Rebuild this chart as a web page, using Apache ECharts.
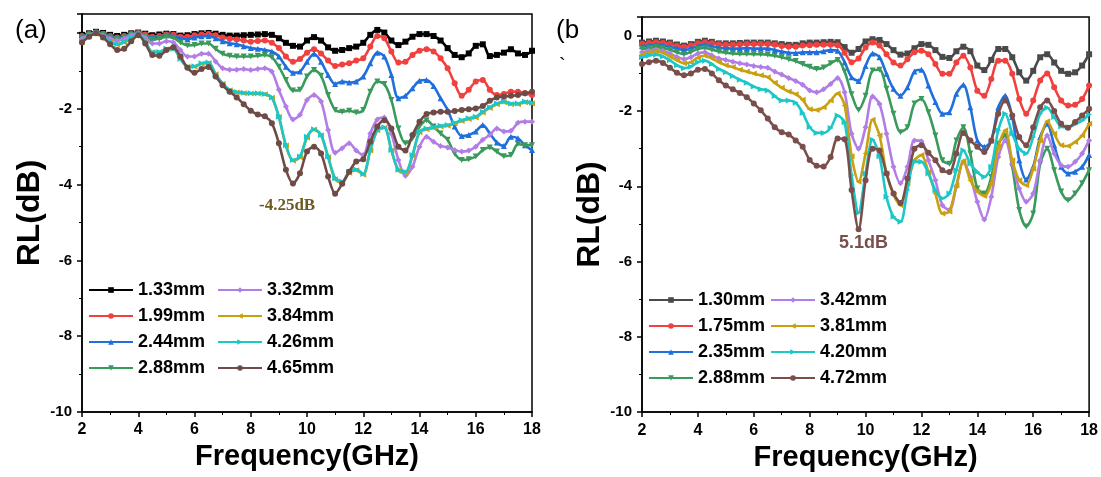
<!DOCTYPE html>
<html>
<head>
<meta charset="utf-8">
<script src="https://cdn.jsdelivr.net/npm/echarts@6/dist/echarts.min.js"></script>
<style>
html,body{margin:0;padding:0;background:#fff;}
#c{width:1101px;height:477px;}
</style>
</head>
<body>
<div id="c"></div>
<script>
const freq = [2,2.25,2.5,2.75,3,3.25,3.5,3.75,4,4.25,4.5,4.75,5,5.25,5.5,5.75,6,6.25,6.5,6.75,7,7.25,7.5,7.75,8,8.25,8.5,8.75,9,9.25,9.5,9.75,10,10.25,10.5,10.75,11,11.25,11.5,11.75,12,12.25,12.5,12.75,13,13.25,13.5,13.75,14,14.25,14.5,14.75,15,15.25,15.5,15.75,16,16.25,16.5,16.75,17,17.25,17.5,17.75,18];

// Panel (a)
const namesA = ['1.33mm','1.99mm','2.44mm','2.88mm','3.32mm','3.84mm','4.26mm','4.65mm'];
const a133 = [-0.05,-0.01,0.03,0.0,-0.05,-0.08,-0.05,-0.01,0.01,-0.02,-0.06,-0.04,-0.02,-0.03,-0.07,-0.06,-0.03,-0.01,0.0,-0.02,-0.05,-0.07,-0.07,-0.06,
 -0.05,-0.04,-0.03,-0.05,-0.14,-0.26,-0.34,-0.36,-0.2,-0.11,-0.2,-0.38,-0.47,-0.45,-0.4,-0.36,-0.26,-0.05,0.08,0.01,-0.2,-0.32,-0.23,-0.1,-0.03,-0.03,-0.08,-0.2,-0.4,-0.58,-0.64,-0.54,-0.34,-0.3,-0.61,-0.58,-0.52,-0.43,-0.54,-0.58,-0.47];
const a199 = [-0.08,-0.03,0.02,-0.02,-0.08,-0.12,-0.08,-0.03,0.0,-0.04,-0.1,-0.08,-0.04,-0.05,-0.1,-0.1,-0.06,-0.04,-0.03,-0.06,-0.12,-0.15,-0.17,-0.2,
 -0.23,-0.21,-0.2,-0.26,-0.4,-0.62,-0.76,-0.69,-0.52,-0.43,-0.54,-0.73,-0.87,-0.83,-0.8,-0.73,-0.67,-0.36,-0.08,-0.14,-0.49,-0.78,-0.76,-0.58,-0.47,-0.43,-0.49,-0.67,-0.93,-1.33,-1.66,-1.5,-1.28,-1.24,-1.5,-1.64,-1.61,-1.55,-1.55,-1.59,-1.64];
const a244 = [-0.1,-0.04,0.01,-0.03,-0.1,-0.14,-0.1,-0.04,-0.01,-0.06,-0.13,-0.1,-0.06,-0.08,-0.15,-0.16,-0.12,-0.09,-0.08,-0.14,-0.22,-0.27,-0.3,-0.35,
 -0.4,-0.42,-0.45,-0.49,-0.62,-0.89,-1.05,-1.02,-0.76,-0.55,-0.76,-1.11,-1.35,-1.28,-1.31,-1.28,-1.15,-0.8,-0.52,-0.62,-1.11,-1.72,-1.66,-1.46,-1.26,-1.24,-1.4,-1.72,-2.03,-2.47,-2.72,-2.69,-2.6,-2.43,-2.65,-2.89,-2.98,-2.74,-2.78,-2.96,-3.09];
const a288 = [-0.12,-0.05,0.0,-0.05,-0.12,-0.16,-0.12,-0.05,-0.02,-0.08,-0.18,-0.15,-0.1,-0.13,-0.25,-0.33,-0.32,-0.28,-0.28,-0.42,-0.55,-0.6,-0.62,-0.62,
 -0.62,-0.6,-0.58,-0.64,-0.89,-1.24,-1.52,-1.5,-1.15,-0.98,-1.13,-1.64,-2.03,-2.08,-2.05,-2.1,-2.03,-1.55,-1.28,-1.35,-1.77,-2.52,-2.91,-2.78,-2.47,-2.3,-2.47,-2.65,-2.82,-3.18,-3.35,-3.33,-3.26,-3.09,-3.02,-3.13,-3.25,-3.22,-2.93,-2.96,-2.96];
const a332 = [-0.15,-0.06,0.0,-0.07,-0.15,-0.2,-0.15,-0.06,-0.03,-0.12,-0.28,-0.28,-0.22,-0.25,-0.45,-0.62,-0.62,-0.55,-0.55,-0.75,-0.93,-0.97,-0.97,-0.95,
 -0.98,-0.95,-0.93,-1.02,-1.5,-1.94,-2.28,-2.16,-1.77,-1.64,-1.81,-2.56,-3.16,-3.04,-2.91,-3.1,-3.22,-2.65,-2.28,-2.23,-2.65,-3.35,-3.77,-3.53,-3.0,-2.74,-2.87,-2.98,-3.02,-3.09,-3.13,-3.1,-3.0,-2.82,-2.69,-2.52,-2.6,-2.58,-2.37,-2.34,-2.34];
const a384 = [-0.23,-0.09,-0.02,-0.11,-0.23,-0.31,-0.25,-0.13,-0.06,-0.23,-0.51,-0.51,-0.43,-0.43,-0.69,-0.89,-0.89,-0.81,-0.79,-1.09,-1.34,-1.51,-1.57,-1.59,
 -1.6,-1.6,-1.62,-1.71,-2.22,-2.97,-3.37,-3.28,-2.76,-2.55,-2.7,-3.28,-3.86,-3.95,-3.69,-3.62,-3.74,-3.1,-2.57,-2.5,-3.1,-3.63,-3.69,-3.24,-2.62,-2.54,-2.51,-2.47,-2.45,-2.39,-2.32,-2.27,-2.23,-2.1,-1.98,-1.88,-1.83,-1.88,-1.88,-1.83,-1.86];
const a426 = [-0.22,-0.08,-0.01,-0.1,-0.22,-0.3,-0.24,-0.12,-0.05,-0.22,-0.5,-0.5,-0.42,-0.42,-0.68,-0.88,-0.88,-0.8,-0.78,-1.08,-1.33,-1.5,-1.56,-1.58,
 -1.59,-1.59,-1.61,-1.7,-2.21,-2.96,-3.35,-3.26,-2.74,-2.54,-2.69,-3.26,-3.83,-3.92,-3.66,-3.6,-3.72,-3.09,-2.56,-2.49,-3.09,-3.61,-3.66,-3.22,-2.6,-2.52,-2.49,-2.45,-2.43,-2.37,-2.3,-2.25,-2.21,-2.08,-1.96,-1.86,-1.81,-1.86,-1.86,-1.81,-1.84];
const a465 = [-0.25,-0.1,-0.01,-0.12,-0.3,-0.45,-0.42,-0.22,-0.06,-0.28,-0.58,-0.6,-0.45,-0.38,-0.62,-0.92,-1.05,-0.95,-0.9,-1.15,-1.38,-1.55,-1.7,-1.88,
 -2.05,-2.15,-2.2,-2.38,-2.91,-3.61,-3.97,-3.7,-3.13,-3.0,-3.18,-3.79,-4.24,-3.98,-3.66,-3.39,-3.33,-2.87,-2.47,-2.3,-2.52,-3.0,-3.1,-2.69,-2.34,-2.14,-2.1,-2.08,-2.08,-2.06,-2.03,-2.01,-1.99,-1.93,-1.79,-1.7,-1.68,-1.66,-1.64,-1.59,-1.55];

// Panel (b)
const namesB = ['1.30mm','1.75mm','2.35mm','2.88mm ','3.42mm','3.81mm','4.20mm','4.72mm'];
const b130 = [-0.18,-0.15,-0.13,-0.15,-0.18,-0.23,-0.26,-0.22,-0.16,-0.13,-0.16,-0.2,-0.2,-0.2,-0.19,-0.18,-0.18,-0.18,-0.18,-0.2,-0.22,-0.24,-0.24,-0.2,
 -0.18,-0.18,-0.17,-0.16,-0.17,-0.3,-0.45,-0.35,-0.15,-0.09,-0.11,-0.22,-0.38,-0.5,-0.47,-0.33,-0.22,-0.24,-0.38,-0.56,-0.59,-0.41,-0.29,-0.41,-0.79,-0.91,-0.64,-0.35,-0.35,-0.57,-0.97,-1.19,-0.93,-0.57,-0.49,-0.71,-0.93,-1.01,-0.97,-0.79,-0.49];
const b175 = [-0.22,-0.19,-0.17,-0.19,-0.22,-0.27,-0.3,-0.26,-0.2,-0.17,-0.2,-0.23,-0.24,-0.24,-0.23,-0.22,-0.22,-0.22,-0.22,-0.24,-0.27,-0.29,-0.29,-0.26,
 -0.25,-0.24,-0.24,-0.24,-0.25,-0.45,-0.7,-0.6,-0.31,-0.18,-0.26,-0.49,-0.71,-0.79,-0.62,-0.44,-0.4,-0.49,-0.75,-1.01,-1.01,-0.71,-0.53,-0.84,-1.46,-1.59,-1.15,-0.66,-0.66,-1.01,-1.68,-2.07,-1.72,-1.19,-1.0,-1.37,-1.72,-1.85,-1.83,-1.68,-1.32];
const b235 = [-0.28,-0.25,-0.23,-0.25,-0.29,-0.34,-0.38,-0.34,-0.27,-0.24,-0.28,-0.32,-0.33,-0.34,-0.34,-0.33,-0.34,-0.34,-0.34,-0.38,-0.42,-0.45,-0.46,-0.44,
 -0.44,-0.44,-0.41,-0.38,-0.4,-0.7,-1.1,-1.2,-0.8,-0.47,-0.57,-1.01,-1.41,-1.59,-1.37,-0.95,-0.9,-1.32,-1.76,-2.07,-2.03,-1.54,-1.3,-1.9,-2.78,-2.95,-2.78,-1.9,-1.59,-2.16,-3.31,-3.82,-3.48,-2.69,-2.34,-2.91,-3.48,-3.66,-3.61,-3.48,-3.17];
const b288 = [-0.35,-0.32,-0.3,-0.32,-0.37,-0.44,-0.49,-0.43,-0.35,-0.32,-0.37,-0.42,-0.45,-0.47,-0.48,-0.48,-0.49,-0.49,-0.5,-0.53,-0.57,-0.62,-0.67,-0.75,
 -0.82,-0.88,-0.84,-0.73,-0.64,-0.95,-1.55,-1.97,-1.59,-0.92,-0.9,-1.41,-2.07,-2.56,-2.43,-1.8,-1.68,-2.03,-2.65,-3.31,-3.4,-2.78,-2.43,-3.13,-4.06,-4.19,-3.75,-2.87,-2.65,-3.48,-4.63,-5.07,-4.72,-3.4,-3.0,-3.57,-4.14,-4.37,-4.19,-3.92,-3.57];
const b342 = [-0.44,-0.4,-0.37,-0.4,-0.47,-0.56,-0.62,-0.57,-0.47,-0.44,-0.52,-0.6,-0.64,-0.69,-0.73,-0.76,-0.8,-0.83,-0.85,-0.95,-1.03,-1.12,-1.2,-1.3,
 -1.45,-1.5,-1.42,-1.28,-1.12,-1.5,-2.6,-3.0,-2.43,-1.61,-1.81,-2.6,-3.48,-3.92,-3.48,-2.78,-2.8,-3.31,-3.84,-4.5,-4.63,-4.01,-3.35,-3.75,-4.41,-4.88,-4.28,-3.22,-2.78,-3.4,-4.06,-4.41,-4.19,-3.31,-2.65,-3.13,-3.44,-3.48,-3.35,-3.13,-2.78];
const b381 = [-0.5,-0.45,-0.42,-0.45,-0.55,-0.65,-0.73,-0.7,-0.58,-0.53,-0.6,-0.7,-0.78,-0.83,-0.9,-0.95,-1.0,-1.05,-1.1,-1.25,-1.38,-1.48,-1.55,-1.7,
 -1.95,-1.97,-1.9,-1.72,-1.53,-1.85,-3.2,-3.88,-3.13,-2.23,-2.65,-3.66,-4.23,-4.5,-3.92,-3.31,-3.17,-3.62,-4.19,-4.72,-4.67,-3.97,-3.33,-3.84,-4.14,-4.26,-3.92,-2.95,-2.51,-3.31,-3.84,-3.97,-3.53,-2.78,-2.27,-2.6,-2.91,-2.93,-2.82,-2.65,-2.34];
const b420 = [-0.57,-0.52,-0.5,-0.55,-0.65,-0.78,-0.86,-0.82,-0.7,-0.66,-0.75,-0.88,-0.97,-1.07,-1.17,-1.25,-1.35,-1.42,-1.45,-1.6,-1.72,-1.72,-1.78,-2.05,
 -2.42,-2.58,-2.58,-2.45,-2.12,-2.3,-3.7,-4.7,-3.66,-2.76,-3.2,-4.28,-4.81,-4.94,-4.1,-3.35,-3.35,-3.66,-4.1,-4.32,-4.19,-3.57,-3.04,-3.4,-3.62,-3.75,-3.48,-2.51,-2.07,-2.6,-3.0,-3.13,-2.69,-2.07,-1.91,-2.16,-2.41,-2.43,-2.35,-2.25,-2.09];
const b472 = [-0.75,-0.7,-0.66,-0.72,-0.85,-0.98,-1.05,-1.0,-0.9,-0.88,-1.0,-1.18,-1.32,-1.42,-1.52,-1.63,-1.8,-1.98,-2.2,-2.43,-2.56,-2.62,-2.78,-2.95,
 -3.3,-3.45,-3.47,-3.22,-2.73,-2.75,-4.1,-5.14,-3.84,-3.0,-3.05,-3.66,-4.19,-4.44,-3.79,-3.0,-2.91,-3.11,-3.31,-3.57,-3.62,-3.13,-2.58,-2.78,-2.95,-3.09,-2.78,-2.07,-1.72,-2.12,-2.69,-2.91,-2.43,-1.9,-1.72,-2.0,-2.34,-2.44,-2.29,-2.12,-1.94];

const yTicks = [0,-2,-4,-6,-8,-10];

const seriesA = [a133,a199,a244,a288,a332,a384,a426,a465];
const seriesB = [b130,b175,b235,b288,b342,b381,b420,b472];
const colorsA = ['#000000','#f0413f','#1f6fdc','#3a9a5c','#b27de6','#c9a010','#1cc7c7','#6f4b47'];
const colorsB = ['#4a4a4a','#f0413f','#1f6fdc','#3a9a5c','#b27de6','#c9a010','#1cc7c7','#7a4f4b'];
const symbols = ['rect','circle','triangle','triangle','diamond','triangle','triangle','circle'];
const rots = [0,0,0,180,0,90,-90,0];

const FONT = '"Liberation Sans", Arial, sans-serif';

function mkSeries(names, arrs, colors, idx){
  return arrs.map((arr,i)=>({
    type:'line', name:names[i], xAxisIndex:idx, yAxisIndex:idx,
    data: freq.map((f,k)=>[f, arr[k]]),
    smooth:0.3, symbol:symbols[i], symbolRotate:rots[i], symbolSize:6, showSymbol:true,
    lineStyle:{color:colors[i], width:2.6}, itemStyle:{color:colors[i]},
    emphasis:{disabled:true}, clip:true, z:2+i
  }));
}

function xAx(idx){
  return {type:'value', gridIndex:idx, min:2, max:18, interval:2,
    axisLine:{show:true,onZero:false,lineStyle:{color:'#000',width:1.5}},
    axisTick:{show:true,length:5,lineStyle:{color:'#000',width:1.5}},
    minorTick:{show:true,splitNumber:2,length:3,lineStyle:{color:'#000',width:1}},
    splitLine:{show:false},
    axisLabel:{color:'#000',fontWeight:'bold',fontSize:16,fontFamily:FONT,margin:10},
    name:'Frequency(GHz)', nameLocation:'middle', nameGap:28,
    nameTextStyle:{fontSize:29,fontWeight:'bold',color:'#000',fontFamily:FONT}};
}
function yAx(idx, hideZero, gap){
  return {type:'value', gridIndex:idx, min:-10, max:0.5, interval:2,
    axisLine:{show:true,onZero:false,lineStyle:{color:'#000',width:1.5}},
    axisTick:{show:true,length:5,lineStyle:{color:'#000',width:1.5}},
    minorTick:{show:true,splitNumber:2,length:3,lineStyle:{color:'#000',width:1}},
    splitLine:{show:false},
    axisLabel:{color:'#000',fontWeight:'bold',fontSize:15,fontFamily:FONT,margin:10,
      formatter:function(v){ if(yTicks.indexOf(v)<0) return ''; if(hideZero && v===0) return ''; return String(v);} },
    name:'RL(dB)', nameLocation:'middle', nameRotate:90, nameGap:gap,
    nameTextStyle:{fontSize:32,fontWeight:'bold',color:'#000',fontFamily:FONT}};
}

function legend(names, left, top){
  return {data:names, left:left, top:top, orient:'vertical', itemWidth:44, itemHeight:7, itemGap:8,
    selectedMode:false, padding:0,
    textStyle:{fontSize:18,fontWeight:'bold',color:'#000',fontFamily:FONT,lineHeight:18}};
}

const option = {
  animation:false,
  backgroundColor:'#fff',
  grid:[
    {left:82,right:569,top:14,bottom:65,show:true,borderColor:'#000',borderWidth:1.5,backgroundColor:'transparent'},
    {left:642,right:11,top:17,bottom:64,show:true,borderColor:'#000',borderWidth:1.5,backgroundColor:'transparent'}
  ],
  xAxis:[xAx(0), xAx(1)],
  yAxis:[yAx(0,true,36), yAx(1,false,30)],
  legend:[
    legend(namesA.slice(0,4), 88, 281),
    legend(namesA.slice(4), 217, 281),
    legend(namesB.slice(0,4), 648, 291),
    legend(namesB.slice(4), 770, 291)
  ],
  series:[].concat(mkSeries(namesA, seriesA, colorsA, 0), mkSeries(namesB, seriesB, colorsB, 1)),
  graphic:[
    {type:'text', left:15, top:18, style:{text:'(a)', font:'26px '+FONT, fill:'#000'}},
    {type:'text', left:556, top:18, style:{text:'(b', font:'26px '+FONT, fill:'#000'}},
    {type:'text', left:559, top:56, style:{text:'`', font:'20px '+FONT, fill:'#000'}},
    {type:'text', left:259, top:197, style:{text:'-4.25dB', font:'bold 17px "Liberation Serif", "Times New Roman", serif', fill:'#6b5a22'}},
    {type:'text', left:839, top:234, style:{text:'5.1dB', font:'bold 18px '+FONT, fill:'#7a4f4b'}}
  ]
};

const chart = echarts.init(document.getElementById('c'), null, {renderer:'canvas'});
chart.setOption(option);
</script>
</body>
</html>
